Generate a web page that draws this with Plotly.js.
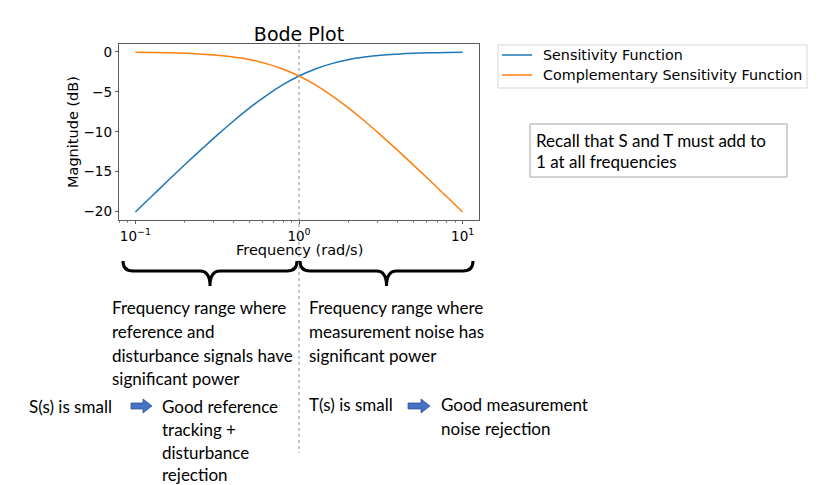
<!DOCTYPE html>
<html>
<head>
<meta charset="utf-8">
<script src="https://cdn.plot.ly/plotly-3.0.1.min.js"></script>
<style>html,body{margin:0;padding:0;background:#fff;}#chart{width:829px;height:485px;}</style>
</head>
<body>
<div id="chart"></div>
<script>
// Frequencies (rad/s)
var freq = [0.1, 0.1259, 0.1585, 0.1995, 0.2512, 0.3162, 0.3981, 0.5012, 0.6310, 0.7943, 1.0,
            1.259, 1.585, 1.995, 2.512, 3.162, 3.981, 5.012, 6.310, 7.943, 10.0];
// Sensitivity Function magnitude (dB)
var sensitivity = [-20.04, -18.07, -16.11, -14.17, -12.27, -10.41, -8.64, -6.97, -5.46, -4.13, -3.01,
                   -2.13, -1.46, -0.97, -0.64, -0.41, -0.27, -0.17, -0.11, -0.07, -0.04];
// Complementary Sensitivity Function magnitude (dB)
var complementary = [-0.04, -0.07, -0.11, -0.17, -0.27, -0.41, -0.64, -0.97, -1.46, -2.13, -3.01,
                     -4.13, -5.46, -6.97, -8.64, -10.41, -12.27, -14.17, -16.11, -18.07, -20.04];
var xTickVals = [0.1, 1, 10];
var xTickText = ['10<sup>\u22121</sup>', '10<sup>0</sup>', '10<sup>1</sup>'];
var yTickVals = [0, -5, -10, -15, -20];
var seriesNames = ['Sensitivity Function', 'Complementary Sensitivity Function'];
var blue = '#1f77b4', orange = '#ff7f0e';

// plot area in pixels
var L = 119, R = 479, T = 44, B = 220;
function px(x) { return (x - L) / (R - L); }
function py(y) { return (B - y) / (B - T); }
function path(pts) {
  return pts.replace(/(-?\d+(\.\d+)?)\s+(-?\d+(\.\d+)?)/g, function(m, a, b, c, d) {
    return px(parseFloat(a)).toFixed(5) + ',' + py(parseFloat(c)).toFixed(5);
  });
}

var mpl = 'DejaVu Sans, sans-serif';
var cal = 'Lato, Carlito, sans-serif';

var traces = [
  {x: freq, y: sensitivity, type: 'scatter', mode: 'lines', name: seriesNames[0],
   line: {color: blue, width: 1.5, shape: 'spline', smoothing: 1}, showlegend: false},
  {x: freq, y: complementary, type: 'scatter', mode: 'lines', name: seriesNames[1],
   line: {color: orange, width: 1.5, shape: 'spline', smoothing: 1}, showlegend: false}
];

function txt(x, y, t, size, font) {
  return {xref: 'paper', yref: 'paper', x: px(x), y: py(y), text: t, showarrow: false,
          xanchor: 'left', yanchor: 'middle', font: {family: font || cal, size: size || 17, color: '#000'}};
}

var yTitle = txt(73, 132, 'Magnitude (dB)', 14.5, mpl);
yTitle.xanchor = 'center'; yTitle.textangle = -90;
var xTitle = txt(299, 250, 'Frequency (rad/s)', 14.5, mpl);
xTitle.xanchor = 'center';

var annotations = [
  yTitle, xTitle,
  txt(541, 55, seriesNames[0], 14.3, mpl),
  txt(541, 75, seriesNames[1], 14.3, mpl),
  txt(534, 140, 'Recall that S and T must add to'),
  txt(534, 161, '1 at all frequencies'),
  txt(110, 307, 'Frequency range where'),
  txt(110, 331, 'reference and'),
  txt(110, 355, 'disturbance signals have'),
  txt(110, 378, 'significant power'),
  txt(307, 307, 'Frequency range where'),
  txt(307, 331, 'measurement noise has'),
  txt(307, 355, 'significant power'),
  txt(27, 406, 'S(s) is small'),
  txt(160, 406, 'Good reference'),
  txt(160, 429, 'tracking +'),
  txt(160, 452, 'disturbance'),
  txt(160, 474, 'rejection'),
  txt(307, 405, 'T(s) is small'),
  txt(439, 405, 'Good measurement'),
  txt(439, 428, 'noise rejection')
];

function brace(x0, x1, yTop, yMid, yTip) {
  var xm = (x0 + x1) / 2, r = 10;
  return path('M ' + x0 + ' ' + yTop + ' Q ' + x0 + ' ' + yMid + ' ' + (x0 + r) + ' ' + yMid +
    ' L ' + (xm - r) + ' ' + yMid + ' Q ' + xm + ' ' + yMid + ' ' + xm + ' ' + yTip +
    ' Q ' + xm + ' ' + yMid + ' ' + (xm + r) + ' ' + yMid +
    ' L ' + (x1 - r) + ' ' + yMid + ' Q ' + x1 + ' ' + yMid + ' ' + x1 + ' ' + yTop);
}
function arrow(x0, x1, yc) {
  var hx = x1 - 9;
  return path('M ' + x0 + ' ' + (yc - 3) + ' L ' + hx + ' ' + (yc - 3) + ' L ' + hx + ' ' + (yc - 7) +
    ' L ' + x1 + ' ' + yc + ' L ' + hx + ' ' + (yc + 7) + ' L ' + hx + ' ' + (yc + 3) +
    ' L ' + x0 + ' ' + (yc + 3) + ' Z');
}

var shapes = [
  {type: 'line', xref: 'x', yref: 'paper', x0: 1, x1: 1, y0: 1, y1: py(453),
   line: {color: '#8c8c8c', width: 1, dash: 'dot'}},
  {type: 'rect', xref: 'paper', yref: 'paper', x0: px(498), x1: px(807), y0: py(45), y1: py(88),
   line: {color: '#d6d6d6', width: 1}, fillcolor: 'rgba(255,255,255,0.8)', layer: 'above'},
  {type: 'line', xref: 'paper', yref: 'paper', x0: px(502), x1: px(532), y0: py(55), y1: py(55),
   line: {color: blue, width: 1.5}},
  {type: 'line', xref: 'paper', yref: 'paper', x0: px(502), x1: px(532), y0: py(75), y1: py(75),
   line: {color: orange, width: 1.5}},
  {type: 'rect', xref: 'paper', yref: 'paper', x0: px(530), x1: px(787), y0: py(124), y1: py(177),
   line: {color: '#a6a6a6', width: 1}},
  {type: 'path', xref: 'paper', yref: 'paper', path: brace(123, 297, 261, 271, 286),
   line: {color: '#000', width: 3}},
  {type: 'path', xref: 'paper', yref: 'paper', path: brace(300, 473, 261, 271, 286),
   line: {color: '#000', width: 3}},
  {type: 'path', xref: 'paper', yref: 'paper', path: arrow(131, 152, 406),
   fillcolor: '#4472c4', line: {color: '#2f528f', width: 0.75}},
  {type: 'path', xref: 'paper', yref: 'paper', path: arrow(408, 430, 406),
   fillcolor: '#4472c4', line: {color: '#2f528f', width: 0.75}}
];

var minorVals = [];
[0.1, 1].forEach(function(d) { for (var k = 2; k <= 9; k++) minorVals.push(+(d * k).toFixed(3)); });
minorVals.push(0.09, 0.08, 20);

var layout = {
  width: 829, height: 485,
  margin: {l: L, r: 829 - R, t: T, b: 485 - B},
  paper_bgcolor: '#fff', plot_bgcolor: '#fff',
  showlegend: false,
  title: {text: 'Bode Plot', x: 0.5, xref: 'paper', xanchor: 'center', y: 1 - 34 / 485, yanchor: 'middle',
          font: {family: mpl, size: 19, color: '#000'}},
  xaxis: {type: 'log', range: [-1.1, 1.1], tickmode: 'array', tickvals: xTickVals, ticktext: xTickText,
          showgrid: false, zeroline: false, showline: true, mirror: true, linecolor: '#333', linewidth: 0.8,
          ticks: 'outside', ticklen: 3.5, tickwidth: 0.8, tickcolor: '#333',
          tickfont: {family: mpl, size: 13.5, color: '#000'},
          minor: {tickmode: 'array', tickvals: minorVals, ticks: 'outside', ticklen: 2, tickwidth: 0.6, tickcolor: '#333', showgrid: false}},
  yaxis: {range: [-21.05, 1.0], tickmode: 'array', tickvals: yTickVals,
          showgrid: false, zeroline: false, showline: true, mirror: true, linecolor: '#333', linewidth: 0.8,
          ticks: 'outside', ticklen: 3.5, tickwidth: 0.8, tickcolor: '#333',
          tickfont: {family: mpl, size: 13.5, color: '#000'}},
  shapes: shapes,
  annotations: annotations
};

Plotly.newPlot('chart', traces, layout, {displayModeBar: false, staticPlot: true});
</script>
</body>
</html>
